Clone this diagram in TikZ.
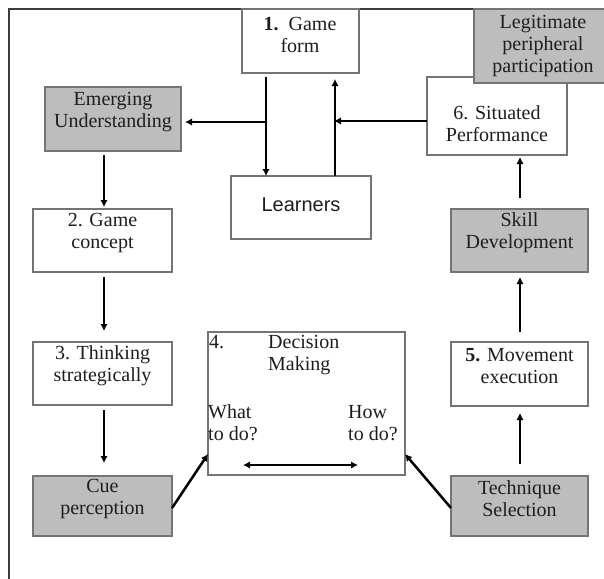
\documentclass[tikz,border=0pt]{standalone}
\usepackage{fontspec}
\setmainfont{Liberation Serif}
\newfontfamily\sansf{Liberation Sans}
\usetikzlibrary{arrows.meta,fit}
\definecolor{boxline}{HTML}{747474}
\definecolor{boxfill}{HTML}{BDBDBD}
\definecolor{frameline}{HTML}{3C3C3C}
\definecolor{txtcol}{HTML}{1E1E1E}
\tikzset{
  box/.style={draw=boxline, line width=1.5pt, inner sep=0pt, outer sep=0pt, fill=white},
  greybox/.style={box, fill=boxfill},
  txt/.style={align=center, text=txtcol, inner sep=0pt, font=\fontsize{20}{22}\selectfont},
  ltxt/.style={align=left, text=txtcol, inner sep=0pt, anchor=west, font=\fontsize{20}{22}\selectfont},
  arr/.style={line width=2.5pt, -{Latex[length=7pt,width=7.5pt]}},
  darr/.style={line width=2.5pt, {Latex[length=7pt,width=7.5pt]}-{Latex[length=7pt,width=7.5pt]}},
  frame/.style={draw=frameline, line width=2pt}
}
\begin{document}
\begin{tikzpicture}[x=1pt,y=-1pt]
\clip (0,0) rectangle (604,578);
\fill[white] (0,0) rectangle (604,578);
% outer frame
\draw[frame] (610,9) -- (9,9) -- (9,585);

% boxes
\node[box, fit={(242,9)(359,73)}] (gf) {};
\node[box, fit={(427,77)(567,155)}] (sp) {};
\node[greybox, fit={(474,9)(614,83)}] (lp) {};
\node[greybox, fit={(45,87)(181,151)}] (eu) {};
\node[box, fit={(231,176)(371,239)}] (ln) {};
\node[box, fit={(33,209)(172,272)}] (gc) {};
\node[greybox, fit={(451,209)(588,272)}] (sk) {};
\node[box, fit={(33,342)(172,405)}] (th) {};
\node[box, fit={(451,342)(588,406)}] (mv) {};
\node[box, fit={(208,332)(405,475)}] (dm) {};
\node[greybox, fit={(33,476)(172,536)}] (cue) {};
\node[greybox, fit={(451,476)(588,536)}] (tech) {};

% texts
\node[txt] (gft) at (300,35) {\textbf{1.}\ \ Game\\form};
\node[txt] (lpt) at (543,46) {Legitimate\\peripheral\\participation};
\node[txt] (eut) at (113,112) {Emerging\\Understanding};
\node[txt] (spt) at (497,124) {6. Situated\\Performance};
\node[txt, font=\sansf\fontsize{20}{22}\selectfont] (lnt) at (301,205) {Learners};
\node[txt] (gct) at (102.5,233) {2. Game\\concept};
\node[txt] (skt) at (519.5,233) {Skill\\Development};
\node[txt] (tht) at (102.5,366) {3. Thinking\\strategically};
\node[txt] (mvt) at (519.5,366) {\textbf{5.} Movement\\execution};
\node[txt] (cuet) at (102.5,499) {Cue\\perception};
\node[txt] (techt) at (519.5,499) {Technique\\Selection};
\node[ltxt] (dmt) at (209,355) {\makebox[59pt][l]{4.}Decision\\\hspace*{59pt}Making};
\node[ltxt] (what) at (208,423) {What\\to do?};
\node[ltxt] (how) at (348,423) {How\\to do?};

% helper coordinates
\coordinate (xa) at (266,0);
\coordinate (xb) at (335,0);
\coordinate (xl) at (104,0);
\coordinate (xr) at (520,0);
\coordinate (j1) at (266,122);
\coordinate (j2) at (335,121);
\coordinate (c1) at (0,508);
\coordinate (c2) at (0,454);
\coordinate (da) at (243,465);
\coordinate (db) at (358,465);

% connectors
\draw[arr, shorten <=4pt] (gf.south -| xa) -- (ln.north -| xa);
\draw[arr, shorten >=6pt] (ln.north -| xb) -- (gf.south -| xb);
\draw[arr, shorten >=4pt] (j1) -- (eu.east |- j1);
\draw[arr, shorten >=-1pt] (sp.west |- j2) -- (j2);
\draw[arr, shorten <=4pt, shorten >=2pt] (eu.south -| xl) -- (gc.north -| xl);
\draw[arr, shorten <=5pt, shorten >=11pt] (gc.south -| xl) -- (th.north -| xl);
\draw[arr, shorten <=5pt, shorten >=13pt] (th.south -| xl) -- (cue.north -| xl);
\draw[arr] (cue.east |- c1) -- (dm.west |- c2);
\draw[arr] (tech.west |- c1) -- (dm.east |- c2);
\draw[arr, shorten <=12pt, shorten >=7pt] (tech.north -| xr) -- (mv.south -| xr);
\draw[arr, shorten <=10pt, shorten >=5pt] (mv.north -| xr) -- (sk.south -| xr);
\draw[arr, shorten <=11pt, shorten >=2pt] (sk.north -| xr) -- (sp.south -| xr);
\draw[darr] (da) -- (db);
\end{tikzpicture}
\end{document}
